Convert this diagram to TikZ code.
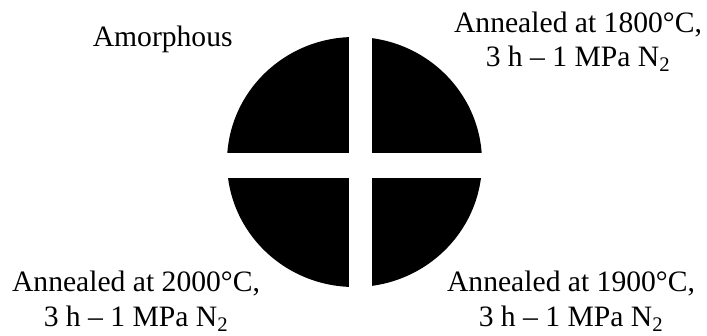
\documentclass[tikz,border=0pt]{standalone}
\usepackage{fontspec}
\setmainfont{Liberation Serif}
\begin{document}
\begin{tikzpicture}[x=1pt,y=-1pt,
  lbl/.style={font=\fontsize{29.6}{34.5}\selectfont, align=center, anchor=base, inner sep=0pt}]
\useasboundingbox (0,0) rectangle (707,335);
% disc
\fill[black] (354.5,162) ellipse [x radius=127.5, y radius=125];
% cuts
\fill[white] (349,30) rectangle (372,295);
\fill[white] (220,153) rectangle (490,178);
% labels (base anchor = baseline of last line)
\node[lbl] (amor) at (162.7,46.7) {Amorphous};
\node[lbl] (tr) at (578,66.5) {Annealed at 1800°C,\\3 h – 1 MPa N\textsubscript{2}};
\node[lbl] (bl) at (136,326) {Annealed at 2000°C,\\3 h – 1 MPa N\textsubscript{2}};
\node[lbl] (br) at (571,326) {Annealed at 1900°C,\\3 h – 1 MPa N\textsubscript{2}};
\end{tikzpicture}
\end{document}
